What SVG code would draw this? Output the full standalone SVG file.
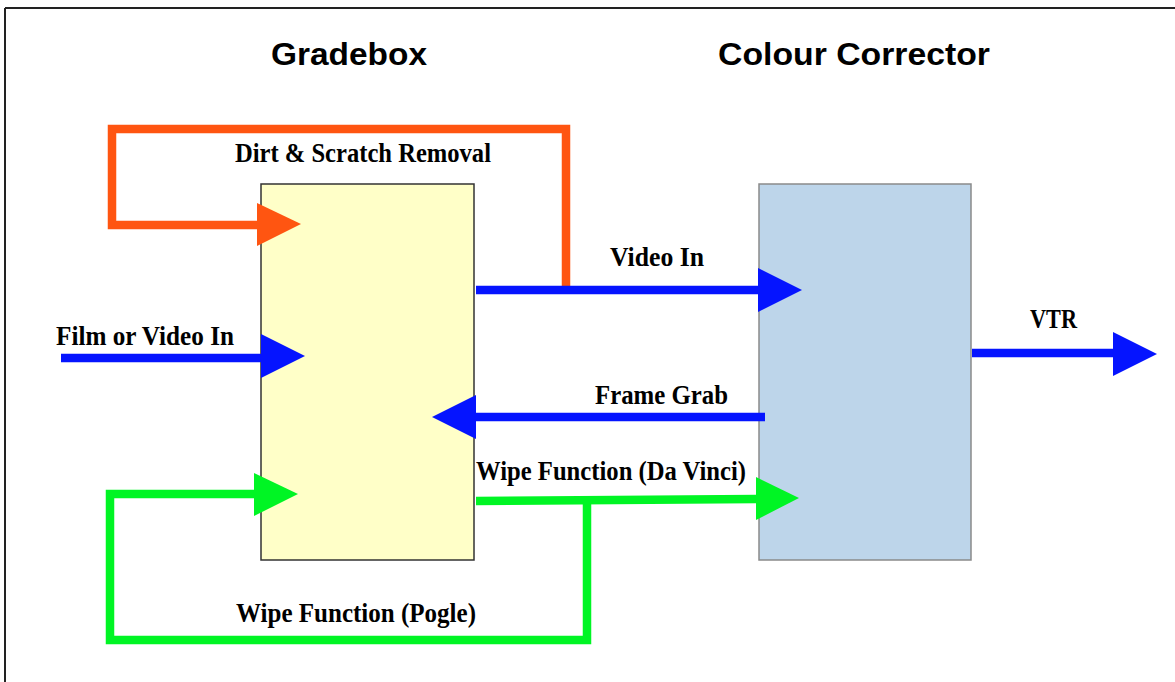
<svg xmlns="http://www.w3.org/2000/svg" width="1175" height="682" viewBox="0 0 1175 682">
<style>
.title{font-family:"Liberation Sans",Arial,sans-serif;font-weight:bold;font-size:31px;fill:#000}
.lbl{font-family:"Liberation Serif","Times New Roman",serif;font-weight:bold;font-size:28px;fill:#000}
.line{fill:none;stroke-width:8.5;stroke-linejoin:miter;stroke-linecap:butt}
.or{stroke:#ff5511}.orf{fill:#ff5511}
.bl{stroke:#0514ff}.blf{fill:#0514ff}
.gr{stroke:#00f524}.grf{fill:#00f524}
</style>
<rect width="1175" height="682" fill="#fff"/>
<g id="frame" stroke="#222" stroke-width="2" fill="none">
<line x1="5" y1="8" x2="1175" y2="8"/>
<line x1="5" y1="8" x2="5" y2="682"/>
</g>
<g id="gradebox">
<rect x="261" y="184" width="213" height="376" fill="#ffffc8" stroke="#333" stroke-width="1.5"/>
<text class="title" x="271" y="65" textLength="156" lengthAdjust="spacingAndGlyphs">Gradebox</text>
</g>
<g id="colour-corrector">
<rect x="759" y="184" width="212" height="376" fill="#bdd5ea" stroke="#8a8a8a" stroke-width="1.5"/>
<text class="title" x="718" y="65" textLength="272" lengthAdjust="spacingAndGlyphs">Colour Corrector</text>
</g>
<g id="connectors">
<path class="line or" d="M566 291 V129 H112 V225 H258"/>
<polygon class="orf" points="257,203 301,224 257,246"/>
<path class="line bl" d="M476 290 H759"/>
<polygon class="blf" points="758,268 802,290 758,312"/>
<path class="line bl" d="M61 358 H262"/>
<polygon class="blf" points="261,334 305,356 261,378"/>
<path class="line bl" d="M765 417 H475"/>
<polygon class="blf" points="476,395 432,417 476,439"/>
<path class="line bl" d="M972 353 H1114"/>
<polygon class="blf" points="1113,332 1157,354 1113,376"/>
<path class="line gr" d="M476 501 L757 499"/>
<polygon class="grf" points="756,477 799,498 756,520"/>
<path class="line gr" d="M587 501 V640 H110 V494 H255"/>
<polygon class="grf" points="254,473 298,494 254,516"/>
</g>
<g id="labels">
<text class="lbl" x="235" y="162" textLength="256" lengthAdjust="spacingAndGlyphs">Dirt &amp; Scratch Removal</text>
<text class="lbl" x="610" y="266" textLength="94" lengthAdjust="spacingAndGlyphs">Video In</text>
<text class="lbl" x="56" y="345" textLength="178" lengthAdjust="spacingAndGlyphs">Film or Video In</text>
<text class="lbl" x="595" y="404" textLength="133" lengthAdjust="spacingAndGlyphs">Frame Grab</text>
<text class="lbl" x="1030" y="328" textLength="47" lengthAdjust="spacingAndGlyphs">VTR</text>
<text class="lbl" x="476" y="480" textLength="270" lengthAdjust="spacingAndGlyphs">Wipe Function (Da Vinci)</text>
<text class="lbl" x="236" y="622" textLength="240" lengthAdjust="spacingAndGlyphs">Wipe Function (Pogle)</text>
</g>
</svg>
